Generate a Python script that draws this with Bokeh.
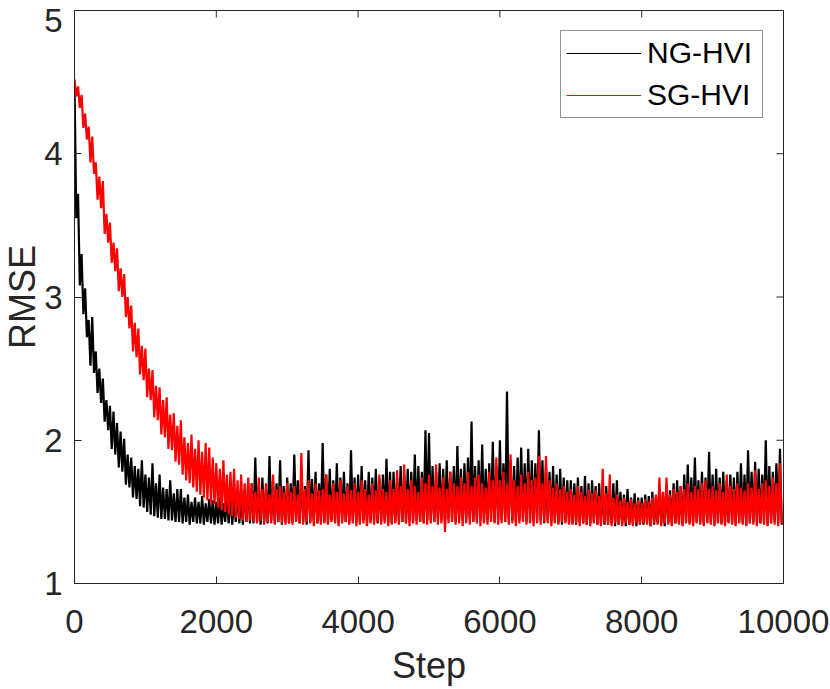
import math
from bokeh.plotting import figure
from bokeh.models import Range1d, FixedTicker, Legend, LegendItem, Label
from bokeh.embed import file_html
from bokeh.resources import INLINE

# ---- data -------------------------------------------------------------
# one bin every 50 steps: upper value (at the bin start) and lower value (25 steps later)
STEP_BIN = 50
STEPS = list(range(0, 10000, STEP_BIN))

NG_HI = [
    4.50, 3.72, 3.30, 3.06, 2.84, 2.86, 2.62, 2.50, 2.43, 2.28,
    2.24, 2.20, 2.12, 2.06, 2.01, 1.90, 1.88, 1.82, 1.80, 1.86,
    1.76, 1.74, 1.84, 1.70, 1.76, 1.67, 1.66, 1.72, 1.63, 1.66,
    1.66, 1.60, 1.62, 1.57, 1.60, 1.57, 1.61, 1.56, 1.59, 1.58,
    1.57, 1.60, 1.56, 1.58, 1.62, 1.59, 1.64, 1.60, 1.66, 1.70,
    1.70, 1.88, 1.68, 1.74, 1.66, 1.89, 1.72, 1.70, 1.86, 1.68,
    1.74, 1.70, 1.90, 1.72, 1.76, 1.68, 1.93, 1.73, 1.78, 1.70,
    1.98, 1.76, 1.80, 1.72, 1.84, 1.74, 1.78, 1.70, 1.93, 1.74,
    1.76, 1.82, 1.72, 1.78, 1.74, 1.80, 1.73, 1.76, 1.87, 1.78,
    1.78, 1.74, 1.82, 1.76, 1.80, 1.78, 1.90, 1.82, 1.78, 2.07,
    2.05, 1.82, 1.78, 1.84, 1.80, 1.86, 1.78, 1.82, 1.96, 1.80,
    1.84, 1.88, 2.13, 1.82, 1.86, 1.97, 1.80, 1.84, 1.99, 1.82,
    2.00, 1.84, 2.34, 1.86, 1.82, 1.88, 1.95, 1.84, 1.94, 1.86,
    1.84, 2.07, 1.86, 1.82, 1.78, 1.82, 1.76, 1.80, 1.74, 1.72,
    1.72, 1.70, 1.74, 1.68, 1.75, 1.70, 1.72, 1.68, 1.70, 1.66,
    1.68, 1.64, 1.70, 1.72, 1.64, 1.62, 1.66, 1.60, 1.63, 1.60,
    1.60, 1.62, 1.61, 1.64, 1.60, 1.66, 1.63, 1.68, 1.65, 1.70,
    1.72, 1.68, 1.76, 1.83, 1.74, 1.88, 1.72, 1.78, 1.74, 1.92,
    1.76, 1.80, 1.74, 1.78, 1.72, 1.76, 1.74, 1.78, 1.84, 1.76,
    1.93, 1.78, 1.85, 1.80, 1.76, 2.00, 1.82, 1.78, 1.84, 1.94,
]
NG_LO = [
    3.55, 3.08, 2.88, 2.72, 2.52, 2.47, 2.33, 2.26, 2.13, 2.07,
    1.94, 1.90, 1.81, 1.78, 1.69, 1.67, 1.60, 1.59, 1.54, 1.53,
    1.50, 1.48, 1.47, 1.46, 1.45, 1.45, 1.44, 1.44, 1.43, 1.43,
    1.42, 1.43, 1.41, 1.43, 1.42, 1.42, 1.41, 1.43, 1.42, 1.41,
    1.42, 1.41, 1.43, 1.42, 1.41, 1.43, 1.42, 1.41, 1.43, 1.42,
    1.42, 1.43, 1.41, 1.43, 1.42, 1.44, 1.42, 1.43, 1.41, 1.43,
    1.42, 1.43, 1.44, 1.42, 1.43, 1.41, 1.43, 1.44, 1.42, 1.43,
    1.43, 1.42, 1.44, 1.43, 1.42, 1.44, 1.43, 1.42, 1.44, 1.43,
    1.43, 1.44, 1.42, 1.43, 1.44, 1.42, 1.43, 1.44, 1.43, 1.42,
    1.43, 1.44, 1.43, 1.42, 1.44, 1.43, 1.44, 1.43, 1.42, 1.44,
    1.44, 1.43, 1.45, 1.44, 1.43, 1.45, 1.44, 1.43, 1.45, 1.44,
    1.44, 1.45, 1.43, 1.44, 1.45, 1.43, 1.44, 1.45, 1.43, 1.44,
    1.44, 1.43, 1.45, 1.44, 1.43, 1.44, 1.45, 1.43, 1.44, 1.43,
    1.43, 1.44, 1.42, 1.43, 1.42, 1.43, 1.42, 1.41, 1.43, 1.42,
    1.42, 1.41, 1.43, 1.42, 1.41, 1.42, 1.43, 1.41, 1.42, 1.41,
    1.41, 1.42, 1.40, 1.41, 1.42, 1.40, 1.41, 1.42, 1.40, 1.41,
    1.41, 1.42, 1.40, 1.41, 1.42, 1.41, 1.40, 1.42, 1.41, 1.42,
    1.42, 1.41, 1.43, 1.42, 1.41, 1.43, 1.42, 1.41, 1.43, 1.42,
    1.41, 1.43, 1.42, 1.41, 1.43, 1.42, 1.41, 1.43, 1.42, 1.41,
    1.42, 1.43, 1.41, 1.42, 1.43, 1.41, 1.42, 1.43, 1.42, 1.41,
]
SG_HI = [
    4.52, 4.47, 4.41, 4.28, 4.19, 4.12, 3.94, 3.84, 3.81, 3.58,
    3.52, 3.38, 3.34, 3.20, 3.16, 3.00, 2.94, 2.82, 2.78, 2.66,
    2.64, 2.50, 2.49, 2.38, 2.37, 2.28, 2.30, 2.18, 2.19, 2.10,
    2.14, 2.02, 1.98, 2.04, 1.94, 2.00, 1.92, 1.98, 1.95, 1.88,
    1.84, 1.80, 1.86, 1.76, 1.78, 1.80, 1.72, 1.76, 1.70, 1.74,
    1.70, 1.64, 1.74, 1.66, 1.70, 1.62, 1.76, 1.66, 1.68, 1.64,
    1.70, 1.64, 1.68, 1.62, 1.91, 1.66, 1.72, 1.63, 1.70, 1.65,
    1.66, 1.76, 1.62, 1.70, 1.64, 1.72, 1.63, 1.68, 1.65, 1.70,
    1.64, 1.72, 1.66, 1.62, 1.70, 1.65, 1.76, 1.66, 1.64, 1.72,
    1.66, 1.79, 1.68, 1.83, 1.66, 1.72, 1.68, 1.64, 1.74, 1.70,
    1.76, 1.68, 1.83, 1.67, 1.74, 1.66, 1.78, 1.70, 1.68, 1.74,
    1.70, 1.78, 1.68, 1.74, 1.76, 1.70, 1.67, 1.78, 1.72, 1.88,
    1.72, 1.78, 1.69, 1.90, 1.72, 1.68, 1.76, 1.70, 1.78, 1.72,
    1.74, 1.89, 1.70, 1.89, 1.72, 1.67, 1.70, 1.66, 1.68, 1.64,
    1.66, 1.62, 1.68, 1.64, 1.61, 1.66, 1.63, 1.65, 1.61, 1.80,
    1.63, 1.76, 1.60, 1.62, 1.58, 1.60, 1.57, 1.59, 1.56, 1.58,
    1.56, 1.59, 1.57, 1.60, 1.62, 1.74, 1.64, 1.74, 1.62, 1.66,
    1.64, 1.68, 1.66, 1.70, 1.64, 1.68, 1.66, 1.70, 1.72, 1.66,
    1.68, 1.65, 1.70, 1.64, 1.76, 1.68, 1.66, 1.70, 1.67, 1.65,
    1.70, 1.67, 1.79, 1.66, 1.70, 1.72, 1.68, 1.74, 1.70, 1.84,
]
SG_LO = [
    4.40, 4.32, 4.18, 4.10, 3.94, 3.86, 3.68, 3.62, 3.44, 3.38,
    3.24, 3.18, 3.04, 3.00, 2.86, 2.78, 2.62, 2.58, 2.46, 2.42,
    2.30, 2.28, 2.16, 2.14, 2.04, 2.02, 1.94, 1.93, 1.85, 1.83,
    1.76, 1.72, 1.70, 1.67, 1.64, 1.62, 1.60, 1.58, 1.56, 1.55,
    1.53, 1.51, 1.50, 1.48, 1.47, 1.46, 1.45, 1.44, 1.43, 1.44,
    1.43, 1.42, 1.44, 1.41, 1.43, 1.42, 1.41, 1.43, 1.42, 1.41,
    1.42, 1.41, 1.43, 1.42, 1.41, 1.43, 1.42, 1.40, 1.42, 1.41,
    1.42, 1.41, 1.43, 1.42, 1.40, 1.42, 1.43, 1.41, 1.42, 1.40,
    1.41, 1.42, 1.40, 1.42, 1.41, 1.43, 1.41, 1.42, 1.40, 1.41,
    1.42, 1.41, 1.43, 1.42, 1.40, 1.42, 1.41, 1.43, 1.42, 1.41,
    1.42, 1.43, 1.41, 1.42, 1.36, 1.42, 1.43, 1.41, 1.42, 1.40,
    1.42, 1.41, 1.43, 1.42, 1.40, 1.42, 1.41, 1.43, 1.42, 1.41,
    1.42, 1.43, 1.41, 1.42, 1.40, 1.42, 1.43, 1.41, 1.42, 1.40,
    1.42, 1.41, 1.43, 1.42, 1.40, 1.42, 1.41, 1.43, 1.42, 1.41,
    1.41, 1.42, 1.40, 1.42, 1.41, 1.40, 1.42, 1.41, 1.40, 1.42,
    1.41, 1.40, 1.42, 1.41, 1.40, 1.42, 1.41, 1.40, 1.42, 1.41,
    1.42, 1.41, 1.40, 1.42, 1.41, 1.40, 1.42, 1.41, 1.40, 1.42,
    1.41, 1.40, 1.42, 1.41, 1.40, 1.42, 1.41, 1.40, 1.42, 1.41,
    1.40, 1.42, 1.41, 1.40, 1.42, 1.41, 1.40, 1.42, 1.41, 1.40,
    1.42, 1.41, 1.40, 1.42, 1.41, 1.40, 1.42, 1.41, 1.40, 1.42,
]

SERIES_NAMES = ["NG-HVI", "SG-HVI"]
SERIES_COLORS = ["#000000", "#ff0000"]
X_TICKS = [0, 2000, 4000, 6000, 8000, 10000]
Y_TICKS = [1, 2, 3, 4, 5]
X_LABEL = "Step"
Y_LABEL = "RMSE"

FONT = "Liberation Sans"
AX_COLOR = "#262626"


def zigzag(hi, lo):
    xs, ys = [], []
    for s, h, l in zip(STEPS, hi, lo):
        xs += [s, s + STEP_BIN // 2]
        ys += [h, l]
    return xs, ys


x0, x1 = X_TICKS[0], X_TICKS[-1]
y0, y1 = Y_TICKS[0], Y_TICKS[-1]

p = figure(width=830, height=689, output_backend="svg", toolbar_location=None,
           x_range=Range1d(x0, x1), y_range=Range1d(y0, y1),
           min_border_left=73, min_border_right=47, min_border_top=10,
           min_border_bottom=106)
p.background_fill_color = "white"
p.border_fill_color = "white"
p.outline_line_color = AX_COLOR
p.outline_line_width = 1
p.xgrid.visible = False
p.ygrid.visible = False

for (hi, lo), color in zip([(NG_HI, NG_LO), (SG_HI, SG_LO)], SERIES_COLORS):
    xs, ys = zigzag(hi, lo)
    p.line(xs, ys, line_color=color, line_width=2.2)

# thin lines used only for the legend samples (one undefined point: nothing is drawn)
legend_renderers = [p.line([float("nan")], [float("nan")], line_color=c, line_width=1)
                    for c in SERIES_COLORS]

# main axes
for ax in (p.xaxis[0], p.yaxis[0]):
    ax.axis_line_color = AX_COLOR
    ax.major_tick_line_color = AX_COLOR
    ax.major_tick_in = 7
    ax.major_tick_out = 0
    ax.minor_tick_line_color = None
    ax.major_label_text_font = FONT
    ax.major_label_text_font_size = "33px"
    ax.major_label_text_color = AX_COLOR
    ax.axis_label_text_font = FONT
    ax.axis_label_text_font_size = "36px"
    ax.axis_label_text_font_style = "normal"
    ax.axis_label_text_color = AX_COLOR

p.xaxis[0].ticker = FixedTicker(ticks=X_TICKS)
p.yaxis[0].ticker = FixedTicker(ticks=Y_TICKS)
p.xaxis[0].axis_label = X_LABEL
p.xaxis[0].major_label_standoff = 26
p.xaxis[0].axis_label_standoff = 9
p.yaxis[0].major_label_standoff = 12
p.yaxis[0].major_label_overrides = {y1: ""}

# top tick label kept inside the picture, as in the reference
# (held in the right-hand panel, which has room to spare; its place is set by data + offset)
p.add_layout(Label(x=x0, y=y1, x_offset=-12, y_offset=-10, text=str(y1),
                   text_align="right", text_baseline="middle",
                   text_font=FONT, text_font_size="33px", text_color=AX_COLOR), "right")

# y-axis title (drawn in the left panel)
p.add_layout(Label(x=x0, y=(y0 + y1) / 2, x_offset=-52, text=Y_LABEL, angle=math.pi / 2,
                   text_align="center", text_baseline="middle",
                   text_font=FONT, text_font_size="36px", text_color=AX_COLOR), "left")

# inward ticks on the top and right edges of the box
p.ray(x=X_TICKS, y=[y1] * len(X_TICKS), length=7, length_units="screen",
      angle=-math.pi / 2, line_color=AX_COLOR, line_width=1)
p.ray(x=[x1] * len(Y_TICKS), y=Y_TICKS, length=7, length_units="screen",
      angle=math.pi, line_color=AX_COLOR, line_width=1)

legend = Legend(items=[LegendItem(label=n, renderers=[r]) for n, r in zip(SERIES_NAMES, legend_renderers)],
                location="top_right", margin=20, padding=5, spacing=8,
                glyph_width=75, glyph_height=34, label_height=34, label_width=110,
                label_standoff=6,
                label_text_font=FONT, label_text_font_size="30px", label_text_color="black",
                border_line_color=AX_COLOR, border_line_width=1,
                background_fill_color="white", background_fill_alpha=1.0)
p.add_layout(legend)

open("out.html", "w").write(file_html(p, INLINE))
